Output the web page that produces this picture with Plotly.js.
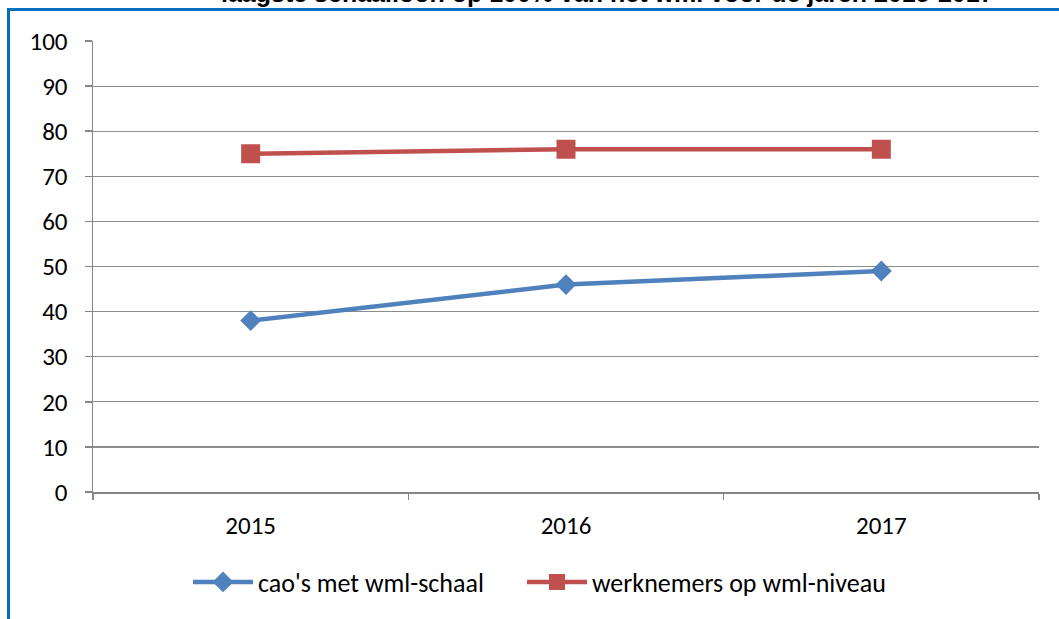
<!DOCTYPE html>
<html>
<head>
<meta charset="utf-8">
<script src="https://cdn.plot.ly/plotly-3.0.1.min.js"></script>
<style>html,body{margin:0;padding:0;background:#fff;}#chart{width:1059px;height:619px;}</style>
</head>
<body>
<div id="chart"></div>
<script>
const years = ['2015', '2016', '2017'];
const caoValues = [38, 46, 49];
const werknemersValues = [75, 76, 76];
const seriesNames = ["cao's met wml-schaal", "werknemers op wml-niveau"];
const yTicks = [0, 10, 20, 30, 40, 50, 60, 70, 80, 90, 100];
const titleText = 'laagste schaalloon op 100% van het wml voor de jaren 2015-2017';

const W = 1059, H = 619;
const mL = 93, mR = 20, mT = 41, mB = 127;
const pw = W - mL - mR, ph = H - mT - mB;
const px = x => (x - mL) / pw;
const py = y => (H - mB - y) / ph;

const font = "Carlito, 'Open Sans', 'Liberation Sans', sans-serif";

const traces = [
  {
    x: years, y: caoValues, name: seriesNames[0], type: 'scatter', mode: 'lines+markers',
    line: {color: '#4F81BD', width: 4.5},
    marker: {symbol: 'diamond', size: 16, color: '#4F81BD'},
    legend: 'legend'
  },
  {
    x: years, y: werknemersValues, name: seriesNames[1], type: 'scatter', mode: 'lines+markers',
    line: {color: '#C0504D', width: 4.5},
    marker: {symbol: 'square', size: 19, color: '#C0504D'},
    legend: 'legend2'
  }
];

const legendBase = {
  orientation: 'h', xanchor: 'left', y: py(582), yanchor: 'middle',
  font: {family: font, size: 26, color: '#000'}, itemwidth: 60,
  bgcolor: 'rgba(0,0,0,0)'
};

const layout = {
  width: W, height: H,
  margin: {l: mL, r: mR, t: mT, b: mB, pad: 0},
  paper_bgcolor: '#ffffff', plot_bgcolor: '#ffffff',
  font: {family: font, size: 25, color: '#000000'},
  showlegend: true,
  legend: Object.assign({}, legendBase, {x: px(188)}),
  legend2: Object.assign({}, legendBase, {x: px(522)}),
  xaxis: {
    type: 'category', range: [-0.5, 2.5], fixedrange: true,
    showgrid: false, zeroline: false,
    showline: true, linecolor: '#868686', linewidth: 1.5,
    ticks: 'outside', tickson: 'boundaries', ticklen: 6, tickcolor: '#868686', tickwidth: 1.5,
    ticklabelstandoff: 10,
    tickfont: {family: font, size: 25, color: '#000'}
  },
  yaxis: {
    range: [0, 100], tickvals: yTicks, ticktext: yTicks.map(String), fixedrange: true,
    showgrid: true, gridcolor: '#8C8C8C', gridwidth: 1.2,
    zeroline: false,
    showline: true, linecolor: '#868686', linewidth: 1.5,
    ticks: 'outside', ticklen: 7, tickcolor: '#868686', tickwidth: 1.5,
    ticklabelstandoff: 12,
    tickfont: {family: font, size: 25, color: '#000'}
  },
  annotations: [{
    text: '<b>' + titleText + '</b>', xref: 'paper', yref: 'paper',
    x: px(607), xanchor: 'center', y: py(9), yanchor: 'bottom', showarrow: false,
    font: {family: "'Liberation Sans', Arial, sans-serif", size: 25, color: '#000'}
  }],
  shapes: [
    {type: 'line', xref: 'paper', yref: 'paper', x0: px(8.5), x1: px(1059), y0: py(9.5), y1: py(9.5),
     line: {color: '#0070C0', width: 3}, layer: 'above'},
    {type: 'line', xref: 'paper', yref: 'paper', x0: px(8.5), x1: px(8.5), y0: py(8), y1: py(619),
     line: {color: '#0070C0', width: 3}, layer: 'above'}
  ]
};

Plotly.newPlot('chart', traces, layout, {displayModeBar: false, staticPlot: true});
</script>
</body>
</html>
